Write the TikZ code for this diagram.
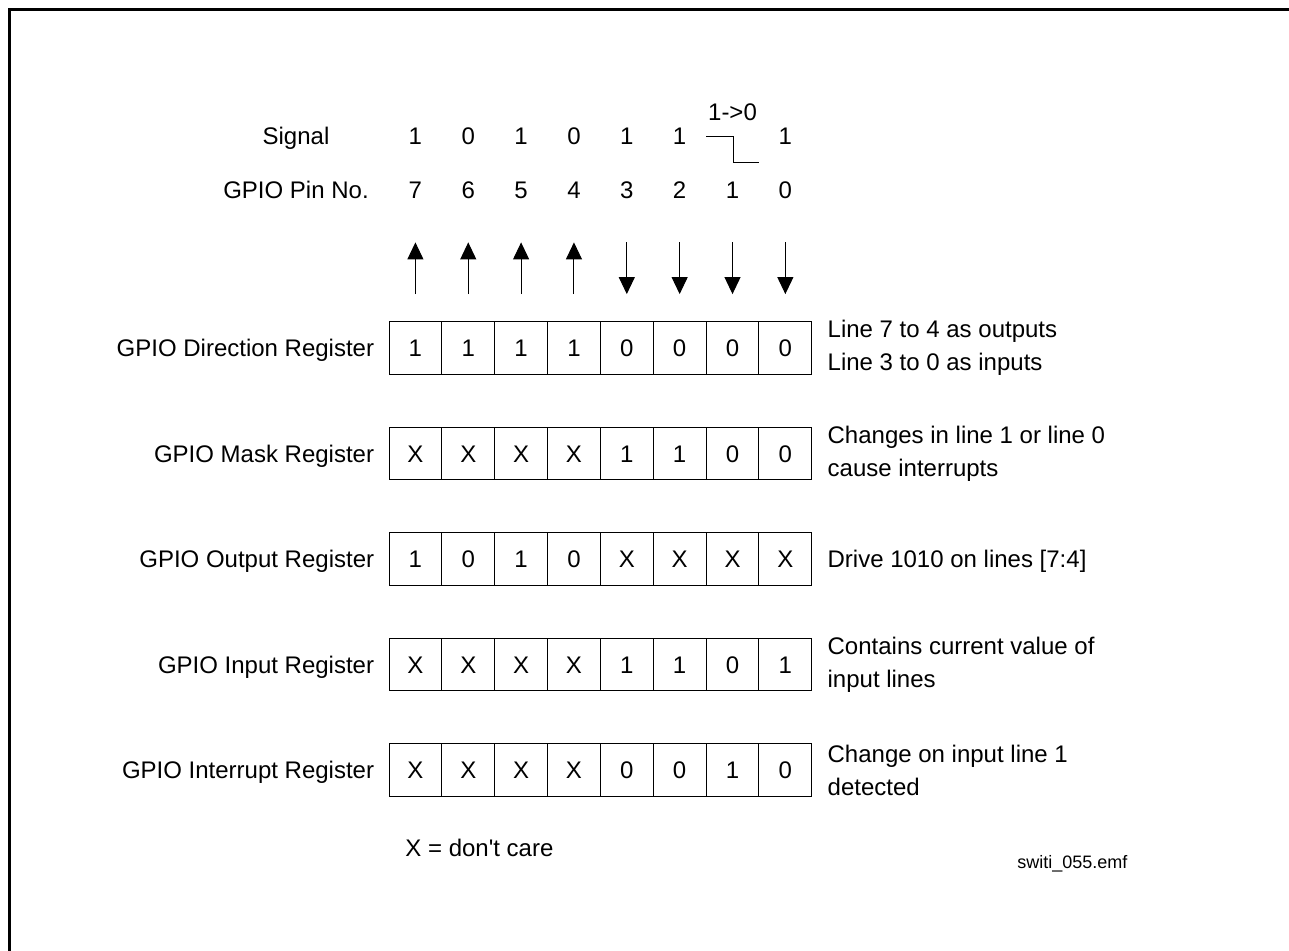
\documentclass[tikz,border=0pt]{standalone}
\usepackage{fontspec}
\setmainfont{Liberation Sans}
\usetikzlibrary{positioning, arrows.meta}

\begin{document}
\begin{tikzpicture}[x=0.5pt, y=-0.5pt,
  font=\fontsize{12}{16.5}\selectfont,
  cell/.style={rectangle, draw, line width=0.5pt, minimum width=26.4pt,
    minimum height=26.4pt, inner sep=0pt, text height=8.6pt, text depth=0pt},
  bit/.style={inner sep=0pt, text height=8.6pt, text depth=0pt},
  reglabel/.style={inner sep=0pt, text height=8.6pt, text depth=0pt},
  note/.style={inner sep=0pt, align=left},
  outpin/.style={line width=0.5pt, -{Triangle[width=8pt, length=8.5pt]},
    shorten <=13.5pt, shorten >=21.7pt},
  inpin/.style={line width=0.5pt, -{Triangle[width=8pt, length=8.5pt]},
    shorten <=21.7pt, shorten >=13.5pt}
]
  \useasboundingbox (0,0) rectangle (1289,951);
  \draw[line width=1.5pt] (9,951) -- (9,10) -- (1289,10);

  \node[bit] (siglabel) at (296,136) {Signal};
  \node[bit] (pinlabel) at (296,190) {GPIO Pin No.};
  \foreach \i in {0,...,7} {
    \pgfmathtruncatemacro{\pin}{7-\i}
    \node[bit] (pin\i) at ({415.4+52.85*\i},190) {\pin};
  }
  \foreach \v/\i in {1/0,0/1,1/2,0/3,1/4,1/5,1/7}
    \node[bit] (sig\i) at ({415.4+52.85*\i},136) {\v};
  \node[bit] (sig6) at ({415.4+52.85*6},112) {1->0};
  \draw[line width=0.5pt] (706,137) -| (733,163) -- (759,163);

  \foreach \row/\y/\bits in {dir/348/{1,1,1,1,0,0,0,0},
      mask/453.5/{X,X,X,X,1,1,0,0}, out/559/{1,0,1,0,X,X,X,X},
      in/664.5/{X,X,X,X,1,1,0,1}, int/770/{X,X,X,X,0,0,1,0}}
    \foreach \v [count=\i from 0] in \bits
      \node[cell] (\row\i) at ({415.4+52.85*\i},\y) {\v};

  \foreach \i in {0,...,3} \draw[outpin] (dir\i) -- (pin\i);
  \foreach \i in {4,...,7} \draw[inpin] (pin\i) -- (dir\i);

  \node[reglabel, left=7pt of dir0] (dirlabel) {GPIO Direction Register};
  \node[reglabel, left=7pt of mask0] (masklabel) {GPIO Mask Register};
  \node[reglabel, left=7pt of out0] (outlabel) {GPIO Output Register};
  \node[reglabel, left=7pt of in0] (inlabel) {GPIO Input Register};
  \node[reglabel, left=7pt of int0] (intlabel) {GPIO Interrupt Register};

  \node[note, right=7.5pt of dir7] (dirnote) {Line 7 to 4 as outputs\\Line 3 to 0 as inputs};
  \node[note, right=7.5pt of mask7] (masknote) {Changes in line 1 or line 0\\cause interrupts};
  \node[reglabel, right=7.5pt of out7] (outnote) {Drive 1010 on lines [7:4]};
  \node[note, right=7.5pt of in7] (innote) {Contains current value of\\input lines};
  \node[note, right=7.5pt of int7] (intnote) {Change on input line 1\\detected};

  \node[bit, anchor=west] (legend) at (405,848) {X = don\textquotesingle t care};
  \node[inner sep=0pt, anchor=west, text height=6.5pt, text depth=0pt,
    font=\fontsize{9}{11}\selectfont] (fname) at (1017,862) {switi\_055.emf};
\end{tikzpicture}
\end{document}
